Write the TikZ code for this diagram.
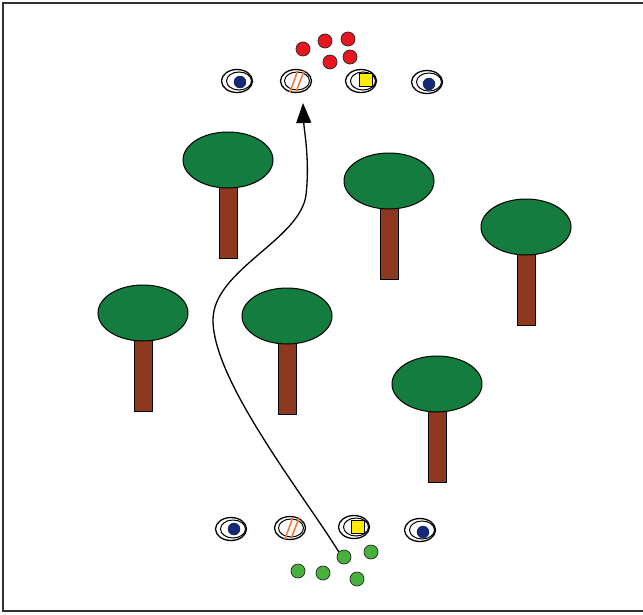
\documentclass[tikz,border=0pt]{standalone}
\usetikzlibrary{shapes.geometric,arrows.meta}
\definecolor{crowngreen}{RGB}{20,124,62}
\definecolor{barkbrown}{RGB}{142,56,32}
\definecolor{navy}{RGB}{22,40,120}
\definecolor{conefill}{RGB}{255,236,0}
\definecolor{ballred}{RGB}{232,22,30}
\definecolor{ballgreen}{RGB}{70,178,60}
\definecolor{stripe}{RGB}{245,120,50}
\definecolor{frame}{RGB}{50,50,50}
\tikzset{
  ring/.style={ellipse, draw=black, line width=1.3pt, fill=white,
    minimum width=31pt, minimum height=23pt, inner sep=0pt},
  innerring/.style={ellipse, draw=black, line width=1pt,
    minimum width=25pt, minimum height=18pt, inner sep=0pt},
  bluedot/.style={circle, fill=navy, draw=navy!60!black, line width=0.4pt,
    minimum size=12pt, inner sep=0pt},
  yellowsq/.style={rectangle, fill=conefill, draw=black, line width=1pt,
    minimum size=13pt, inner sep=0pt},
  ball/.style={circle, draw=black!85, line width=0.7pt, minimum size=14pt, inner sep=0pt},
  redball/.style={ball, fill=ballred},
  greenball/.style={ball, fill=ballgreen},
  stripeline/.style={draw=stripe, line width=1.5pt},
  route/.style={draw=black, line width=1.3pt, -{Triangle[length=20pt,width=15pt]}},
  pics/tree/.style={code={
    \draw[fill=barkbrown, line width=1pt] (-9,0) rectangle (9,98);
    \draw[fill=crowngreen, line width=1pt] (0,0) ellipse [x radius=45, y radius=28];
  }}
}
\begin{document}
\begin{tikzpicture}[x=1pt, y=-1pt]
  \useasboundingbox (0,0) rectangle (643,614);
  % outer frame, open on the right
  \begin{scope}
    \clip (0,0) rectangle (643,614);
    \draw[frame, line width=2pt] (3,3) rectangle (700,611);
  \end{scope}

  % trees
  \pic at (228,160) {tree};
  \pic at (389,181) {tree};
  \pic at (526,227) {tree};
  \pic at (143,313) {tree};
  \pic at (287,316) {tree};
  \pic at (437,384) {tree};

  % top row of markers
  \node[ring] (ta) at (237,81) {};
  \node[innerring] at (239,81) {};
  \node[bluedot] (tad) at (240,82) {};
  \node[ring] (tb) at (296,81) {};
  \node[innerring] at (297,81) {};
  \path[stripeline] (298,70) -- (290,92) (304,71) -- (296,92);
  \node[ring] (tc) at (361,81) {};
  \node[innerring] at (363,81) {};
  \node[yellowsq] (tcs) at (366,80) {};
  \node[ring] (td) at (427,82) {};
  \node[innerring] at (429,82) {};
  \node[bluedot] (tdd) at (429,84) {};

  % red balls
  \node[redball] (r1) at (303,49) {};
  \node[redball] (r2) at (325,41) {};
  \node[redball] (r3) at (348,39) {};
  \node[redball] (r4) at (330,62) {};
  \node[redball] (r5) at (350,57) {};

  % bottom row of markers
  \node[ring] (ba) at (231,529) {};
  \node[innerring] at (233,529) {};
  \node[bluedot] (bad) at (234,529) {};
  \node[ring] (bb) at (290,528) {};
  \node[innerring] at (291,528) {};
  \path[stripeline] (293,517) -- (285,539) (299,518) -- (291,539);
  \node[ring] (bc) at (354,527) {};
  \node[innerring] at (356,527) {};
  \node[yellowsq] (bcs) at (358,527) {};
  \node[ring] (bd) at (420,530) {};
  \node[innerring] at (422,530) {};
  \node[bluedot] (bdd) at (423,532) {};

  % green balls
  \node[greenball] (g1) at (344,557) {};
  \node[greenball] (g2) at (371,552) {};
  \node[greenball] (g3) at (298,571) {};
  \node[greenball] (g4) at (323,573) {};
  \node[greenball] (g5) at (357,579) {};

  % dribbling route through the trees
  \coordinate (goal) at (303,103);
  \draw[route] (g1.north west) .. controls (300,490) and (213,380) .. (213,320)
     .. controls (213,270) and (300,240) .. (306,195)
     .. controls (310,160) and (304,130) .. (goal);
\end{tikzpicture}
\end{document}
